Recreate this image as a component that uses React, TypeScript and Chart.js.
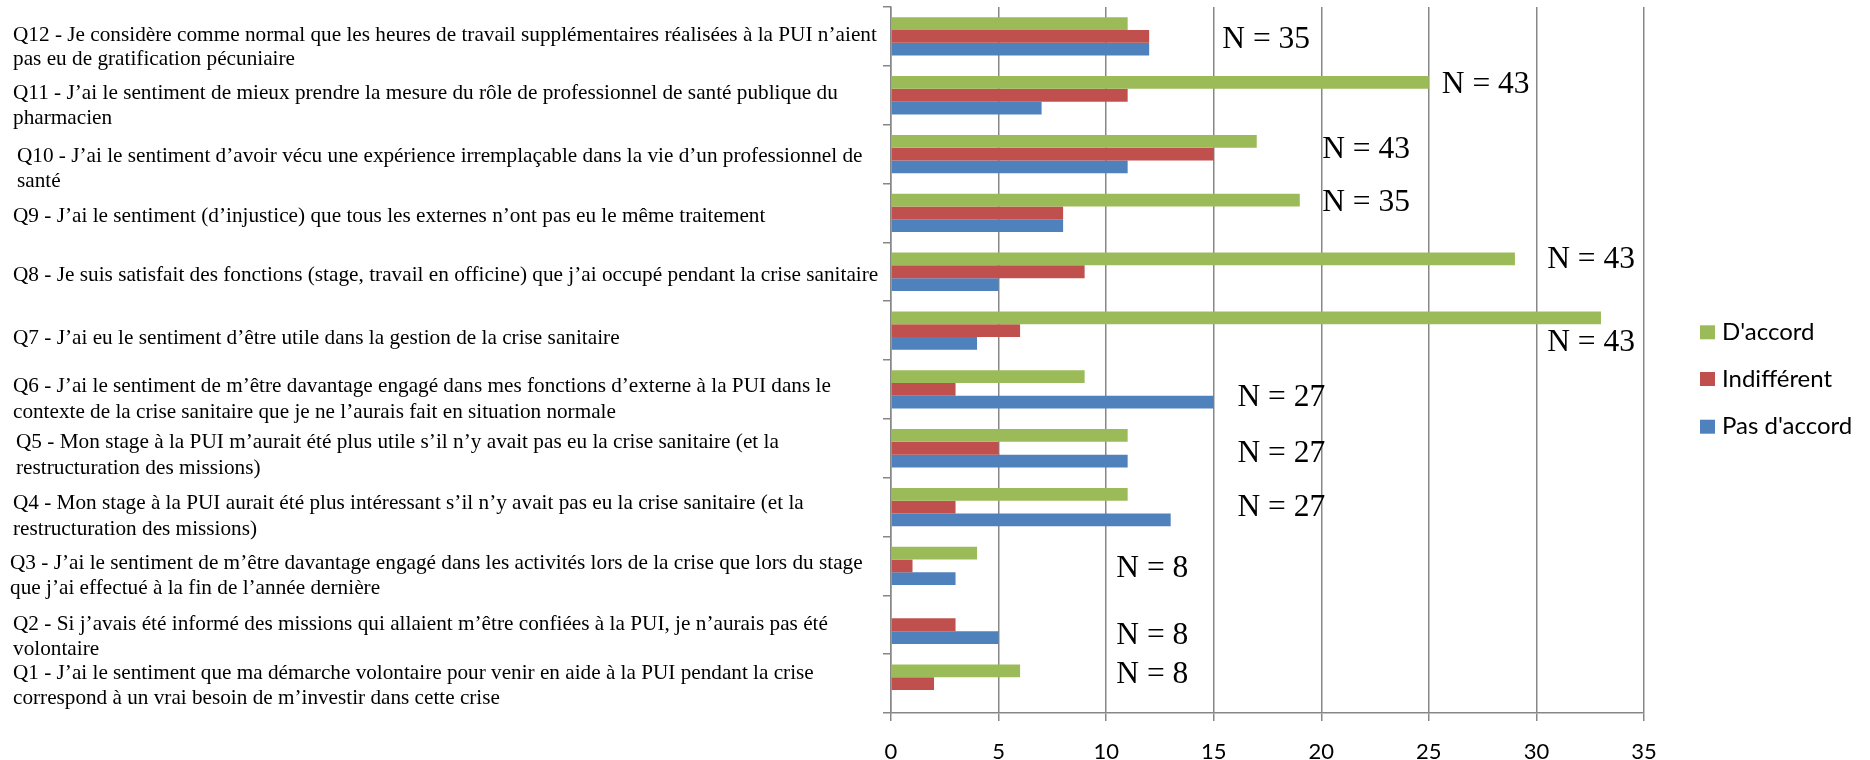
import React, { useEffect, useRef } from "react";
import { Chart, registerables } from "chart.js";

Chart.register(...registerables);

// ---------- DATA ----------
const categories = ["Q12", "Q11", "Q10", "Q9", "Q8", "Q7", "Q6", "Q5", "Q4", "Q3", "Q2", "Q1"];

const questionLines: string[][] = [
  ["Q12 - Je considère comme normal que les heures de travail supplémentaires réalisées à la PUI n’aient", "pas eu de gratification pécuniaire"],
  ["Q11 - J’ai le sentiment de mieux prendre la mesure du rôle de professionnel de santé publique du", "pharmacien"],
  ["Q10 - J’ai le sentiment d’avoir vécu une expérience irremplaçable dans la vie d’un professionnel de", "santé"],
  ["Q9 - J’ai le sentiment (d’injustice) que tous les externes n’ont pas eu le même traitement"],
  ["Q8 - Je suis satisfait des fonctions (stage, travail en officine) que j’ai occupé pendant la crise sanitaire"],
  ["Q7 - J’ai eu le sentiment d’être utile dans la gestion de la crise sanitaire"],
  ["Q6 - J’ai le sentiment de m’être davantage engagé dans mes fonctions d’externe à la PUI dans le", "contexte de la crise sanitaire que je ne l’aurais fait en situation normale"],
  ["Q5 - Mon stage à la PUI m’aurait été plus utile s’il n’y avait pas eu la crise sanitaire (et la", "restructuration des missions)"],
  ["Q4 - Mon stage à la PUI aurait été plus intéressant s’il n’y avait pas eu la crise sanitaire (et la", "restructuration des missions)"],
  ["Q3 - J’ai le sentiment de m’être davantage engagé dans les activités lors de la crise que lors du stage", "que j’ai effectué à la fin de l’année dernière"],
  ["Q2 - Si j’avais été informé des missions qui allaient m’être confiées à la PUI, je n’aurais pas été", "volontaire"],
  ["Q1 - J’ai le sentiment que ma démarche volontaire pour venir en aide à la PUI pendant la crise", "correspond à un vrai besoin de m’investir dans cette crise"],
];

const seriesNames = ["D'accord", "Indifférent", "Pas d'accord"];
const dAccord = [11, 25, 17, 19, 29, 33, 9, 11, 11, 4, 0, 6];
const indifferent = [12, 11, 15, 8, 9, 6, 3, 5, 3, 1, 3, 2];
const pasDAccord = [12, 7, 11, 8, 5, 4, 15, 11, 13, 3, 5, 0];

const nLabels = ["N = 35", "N = 43", "N = 43", "N = 35", "N = 43", "N = 43", "N = 27", "N = 27", "N = 27", "N = 8", "N = 8", "N = 8"];
// value on the x axis where each "N = .." note starts
const nAnchor = [15.4, 25.6, 20.04, 20.04, 30.5, 30.5, 16.1, 16.1, 16.1, 10.47, 10.47, 10.47];

const xMin = 0;
const xMax = 35;
const xStep = 5;

// ---------- LAYOUT / STYLE ----------
const W = 1870;
const H = 760;
const COLORS = ["#9BBB59", "#C0504D", "#4F81BD"];
const GRID = "#878787";
const SERIF = "'Liberation Serif', 'Times New Roman', serif";
const SANS = "Lato, 'Open Sans', sans-serif";

// text-box layout of the question labels: offset (px) of first line from category centre,
// left edge and right edge of the first line
const labelDy = [-1.4, -2, 2, 3.2, 3.4, 8, -2.5, -5.8, -3.2, -2.6, -0.8, -10.5];
const labelX = [13, 13, 17, 13, 13, 13, 13, 16, 13, 10, 13, 13];
const labelRight = [876.7, 838.3, 862.7, 765.5, 878.3, 620, 831.2, 779, 803.7, 862.8, 828.4, 814];
const linePitch = [24.5, 25.5, 25.5, 25.5, 25.5, 25.5, 25.5, 25.5, 25.5, 25.5, 25.5, 25.5];
const nDy = [3.3, -11, -4.6, -10.4, -11.9, 12.3, 8.5, 5.7, 0.4, 2.6, 10.8, -9];

const textPlugin = {
  id: "textPlugin",
  afterDraw(chart: any) {
    const ctx = chart.ctx as CanvasRenderingContext2D;
    const xs = chart.scales.x;
    const ys = chart.scales.y;
    ctx.save();
    // question labels
    ctx.fillStyle = "#000";
    ctx.textAlign = "left";
    ctx.textBaseline = "middle";
    questionLines.forEach((lines, i) => {
      ctx.font = `20px ${SERIF}`;
      const w20 = ctx.measureText(lines[0]).width;
      const size = (20 * (labelRight[i] - labelX[i])) / w20;
      ctx.font = `${size.toFixed(2)}px ${SERIF}`;
      const yc = ys.getPixelForValue(i) + labelDy[i];
      lines.forEach((ln, k) => ctx.fillText(ln, labelX[i], yc + k * linePitch[i]));
    });
    // N annotations
    ctx.font = `31.5px ${SERIF}`;
    nLabels.forEach((t, i) => {
      ctx.fillText(t, xs.getPixelForValue(nAnchor[i]), ys.getPixelForValue(i) + nDy[i]);
    });
    // legend
    ctx.font = `24px ${SANS}`;
    const legY = [332.3, 379, 426.7];
    chart.data.datasets.forEach((ds: any, i: number) => {
      ctx.fillStyle = ds.backgroundColor;
      ctx.fillRect(1700, legY[i] - 7, 15, 14);
      ctx.fillStyle = "#000";
      ctx.fillText(ds.label, 1722, legY[i]);
    });
    ctx.restore();
  },
};

export default function App() {
  const ref = useRef<HTMLCanvasElement | null>(null);
  useEffect(() => {
    if (!ref.current) return;
    const chart = new Chart(ref.current, {
      type: "bar",
      data: {
        labels: categories,
        datasets: [
          { label: seriesNames[0], data: dAccord, backgroundColor: COLORS[0] },
          { label: seriesNames[1], data: indifferent, backgroundColor: COLORS[1] },
          { label: seriesNames[2], data: pasDAccord, backgroundColor: COLORS[2] },
        ],
      },
      options: {
        indexAxis: "y",
        responsive: false,
        animation: false,
        devicePixelRatio: 1,
        layout: { padding: { top: 7, right: 226, left: 0, bottom: 0 } },
        datasets: { bar: { barPercentage: 1, categoryPercentage: 0.652, borderWidth: 0 } },
        plugins: { legend: { display: false }, tooltip: { enabled: false } },
        scales: {
          x: {
            type: "linear",
            min: xMin,
            max: xMax,
            ticks: { stepSize: xStep, color: "#000", font: { family: SANS, size: 22 }, padding: 18 },
            grid: { color: GRID, lineWidth: 1.5, tickLength: 8, drawOnChartArea: true },
            border: { display: true, color: GRID, width: 1.5 },
            afterFit: (s: any) => { s.height = 47; },
          },
          y: {
            type: "category",
            ticks: { display: false },
            grid: { color: GRID, lineWidth: 1.5, tickLength: 8, drawOnChartArea: false, offset: true },
            border: { display: true, color: GRID, width: 1.5 },
            afterFit: (s: any) => { s.width = 891; },
          },
        },
      },
      plugins: [textPlugin],
    } as any);
    return () => chart.destroy();
  }, []);
  return (
    <div style={{ position: "fixed", left: 0, top: 0, width: W, height: H, background: "#fff" }}>
      <canvas ref={ref} width={W} height={H} style={{ width: W, height: H, display: "block" }} />
    </div>
  );
}
